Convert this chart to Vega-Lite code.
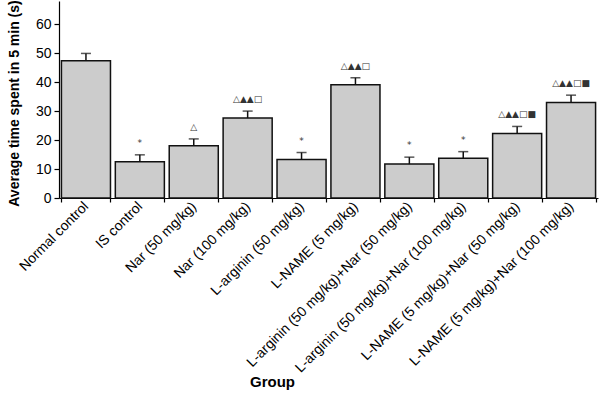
{
  "$schema": "https://vega.github.io/schema/vega-lite/v6.json",
  "autosize": "none",
  "width": 539,
  "height": 197,
  "padding": {"left": 59, "top": 1, "right": 2, "bottom": 195},
  "background": "white",
  "config": {"view": {"stroke": null}, "font": "Liberation Sans"},
  "data": {"values": [
    {"group": "Normal control", "mean": 47.4, "upper": 49.9, "sig": ""},
    {"group": "IS control", "mean": 12.5, "upper": 14.9, "sig": "*"},
    {"group": "Nar (50 mg/kg)", "mean": 18.0, "upper": 20.4, "sig": "△"},
    {"group": "Nar (100 mg/kg)", "mean": 27.6, "upper": 30.0, "sig": "△▲▲□"},
    {"group": "L-arginin (50 mg/kg)", "mean": 13.3, "upper": 15.7, "sig": "*"},
    {"group": "L-NAME (5 mg/kg)", "mean": 39.1, "upper": 41.5, "sig": "△▲▲□"},
    {"group": "L-arginin (50 mg/kg)+Nar (50 mg/kg)", "mean": 11.7, "upper": 14.1, "sig": "*"},
    {"group": "L-arginin (50 mg/kg)+Nar (100 mg/kg)", "mean": 13.7, "upper": 16.0, "sig": "*"},
    {"group": "L-NAME (5 mg/kg)+Nar (50 mg/kg)", "mean": 22.3, "upper": 24.7, "sig": "△▲▲□■"},
    {"group": "L-NAME (5 mg/kg)+Nar (100 mg/kg)", "mean": 33.0, "upper": 35.5, "sig": "△▲▲□■"}
  ]},
  "encoding": {
    "x": {
      "field": "group", "type": "nominal", "sort": null,
      "scale": {"paddingInner": 0.09, "paddingOuter": 0.045},
      "axis": {
        "title": "Group", "titleFont": "Liberation Sans", "titleFontSize": 15, "titleFontWeight": "bold",
        "titleX": 213, "titleY": 183, "titleBaseline": "middle", "titleColor": "black",
        "labelAngle": -45, "labelAlign": "right", "labelBaseline": "middle", "labelFontSize": 14,
        "labelColor": "black", "labelPadding": 2, "labelLimit": 400, "labelOverlap": false,
        "tickBand": "extent", "tickSize": 4, "tickColor": "black", "tickWidth": 1.2,
        "domainColor": "black", "domainWidth": 1.2
      }
    }
  },
  "layer": [
    {
      "mark": {"type": "bar", "fill": "#cccccc", "stroke": "#111111", "strokeWidth": 1.5},
      "encoding": {
        "y": {
          "field": "mean", "type": "quantitative",
          "scale": {"domain": [0, 68], "nice": false},
          "axis": {
            "title": "Average time spent in 5 min (s)", "titleFontSize": 14, "titleFontWeight": "bold",
            "titleColor": "black", "titlePadding": 14, "titleY": 102,
            "values": [0, 10, 20, 30, 40, 50, 60], "tickCount": 7, "grid": false, "labelOverlap": false,
            "labelFontSize": 14, "labelColor": "black", "labelPadding": 3,
            "tickSize": 5, "tickColor": "black", "tickWidth": 1.2,
            "domainColor": "black", "domainWidth": 1.2
          }
        }
      }
    },
    {
      "mark": {"type": "rule", "stroke": "#111111", "strokeWidth": 1.5},
      "encoding": {
        "y": {"field": "mean", "type": "quantitative",
          "axis": {
            "title": "Average time spent in 5 min (s)", "titleFontSize": 14, "titleFontWeight": "bold",
            "titleColor": "black", "titlePadding": 14, "titleY": 102,
            "values": [0, 10, 20, 30, 40, 50, 60], "tickCount": 7, "grid": false, "labelOverlap": false,
            "labelFontSize": 14, "labelColor": "black", "labelPadding": 3,
            "tickSize": 5, "tickColor": "black", "tickWidth": 1.2,
            "domainColor": "black", "domainWidth": 1.2
          }},
        "y2": {"field": "upper"}
      }
    },
    {
      "mark": {"type": "tick", "color": "#111111", "thickness": 1.5, "size": 10},
      "encoding": {"y": {"field": "upper", "type": "quantitative",
          "axis": {
            "title": "Average time spent in 5 min (s)", "titleFontSize": 14, "titleFontWeight": "bold",
            "titleColor": "black", "titlePadding": 14, "titleY": 102,
            "values": [0, 10, 20, 30, 40, 50, 60], "tickCount": 7, "grid": false, "labelOverlap": false,
            "labelFontSize": 14, "labelColor": "black", "labelPadding": 3,
            "tickSize": 5, "tickColor": "black", "tickWidth": 1.2,
            "domainColor": "black", "domainWidth": 1.2
          }}}
    },
    {
      "mark": {"type": "text", "fontSize": 9, "font": "DejaVu Sans", "dy": -7, "baseline": "bottom", "color": "#333333"},
      "encoding": {"y": {"field": "upper", "type": "quantitative",
          "axis": {
            "title": "Average time spent in 5 min (s)", "titleFontSize": 14, "titleFontWeight": "bold",
            "titleColor": "black", "titlePadding": 14, "titleY": 102,
            "values": [0, 10, 20, 30, 40, 50, 60], "tickCount": 7, "grid": false, "labelOverlap": false,
            "labelFontSize": 14, "labelColor": "black", "labelPadding": 3,
            "tickSize": 5, "tickColor": "black", "tickWidth": 1.2,
            "domainColor": "black", "domainWidth": 1.2
          }}, "text": {"field": "sig"}}
    }
  ]
}
